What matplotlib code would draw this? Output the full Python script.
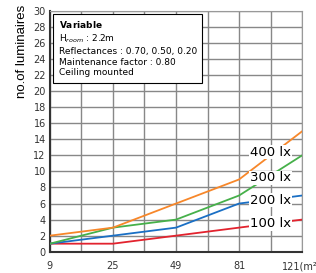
import numpy as np
import matplotlib.pyplot as plt

areas = ['9', '25', '49', '81', '121(m²)']
lux_labels = ['100 lx', '200 lx', '300 lx', '400 lx']
lum_100 = [1, 1, 2, 3, 4]
lum_200 = [1, 2, 3, 6, 7]
lum_300 = [1, 3, 4, 7, 12]
lum_400 = [2, 3, 6, 9, 15]
colors = ['#e2232e', '#1a6fc4', '#46b04a', '#f7872a']
label_y = [3.5, 6.4, 9.2, 12.4]


fig = plt.figure(figsize=(3.16, 2.73), dpi=100)
ax = fig.add_axes([0.158, 0.078, 0.798, 0.882])

x = np.arange(len(areas))
series = [lum_100, lum_200, lum_300, lum_400]
for vals, c in zip(series, colors):
    ax.plot(x, vals, color=c, lw=1.3, zorder=3)

# labels sit on white patches over the lines
for lab, yy in zip(lux_labels, label_y):
    ax.text(3.5, yy, lab, fontsize=9.5, ha='center', va='center', zorder=4,
            bbox=dict(facecolor='white', edgecolor='none', pad=0.5))

ax.set_xlim(0, 4)
ax.set_ylim(0, 30)
ax.set_xticks(x)
ax.set_xticklabels(areas, fontsize=7, color='#333333')
ax.set_xticks(x[:-1] + 0.5, minor=True)
ax.set_yticks(range(0, 31, 2))
ax.tick_params(axis='y', labelsize=7, colors='#333333', length=0, pad=3)
ax.tick_params(axis='x', length=0, pad=7)
ax.tick_params(axis='x', which='minor', length=0)
ax.grid(True, which='both', color='#888888', lw=1.0, zorder=0)

for s in ['top', 'right']:
    ax.spines[s].set_color('#999999')
for s in ['left', 'bottom']:
    ax.spines[s].set_color('#333333')
    ax.spines[s].set_linewidth(1.5)

ax.set_ylabel('no.of luminaires', fontsize=9.5, family='Liberation Sans')
ax.yaxis.set_label_coords(-0.087, 0.83)

info = ('$\\bf{Variable}$\n'
        'H$_{room}$ : 2.2m\n'
        'Reflectances : 0.70, 0.50, 0.20\n'
        'Maintenance factor : 0.80\n'
        'Ceiling mounted')
ax.text(0.035, 0.965, info, transform=ax.transAxes, fontsize=6.5, va='top',
        ha='left', linespacing=1.25, zorder=5,
        bbox=dict(facecolor='white', edgecolor='black', lw=0.8,
                  boxstyle='square,pad=0.6'))

fig.savefig('out.png', dpi=100)
